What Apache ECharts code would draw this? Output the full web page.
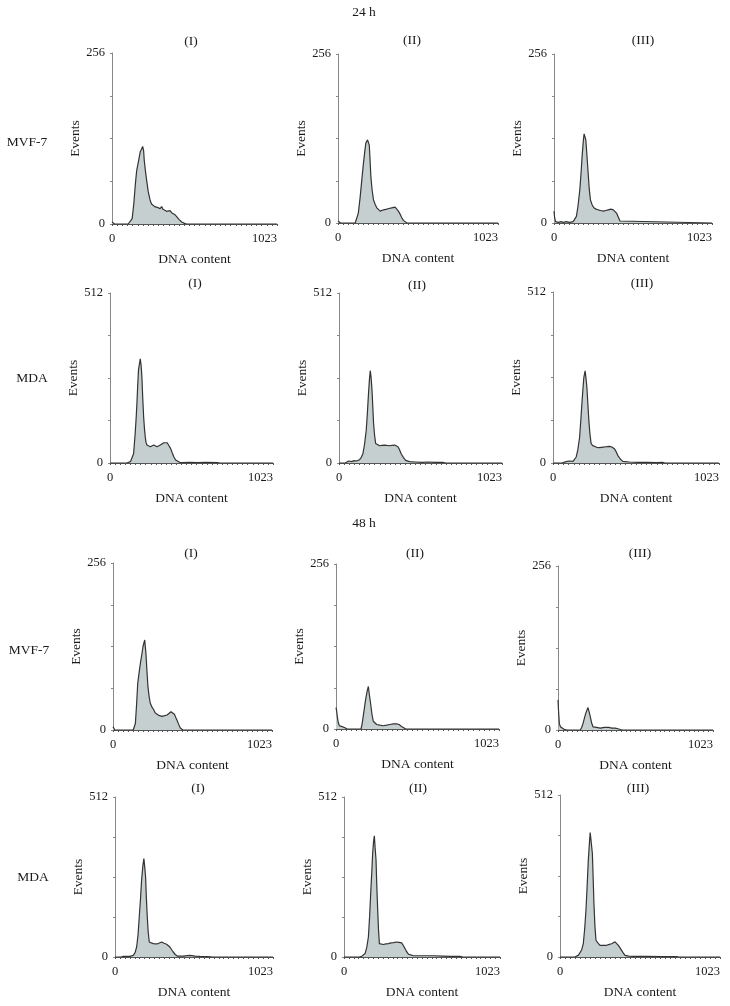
<!DOCTYPE html>
<html><head><meta charset="utf-8">
<script src="https://cdn.jsdelivr.net/npm/echarts@6/dist/echarts.min.js"></script>
<style>html,body{margin:0;padding:0;background:#fff}#c{width:730px;height:1006px}</style>
</head><body><div id="c"></div>
<script>
// ---------- data ----------
const panelTitles = ['(I)', '(II)', '(III)'];
const rowLabels = ['MVF-7', 'MDA', 'MVF-7', 'MDA'];
const timeLabels = ['24 h', '48 h'];
const yMaxByRow = [256, 512, 256, 512];
const xMax = 1023;
const yAxisName = 'Events';
const xAxisName = 'DNA content';

// [DNA content, events]
const mvf24_I = [[0,3],[8,1],[16,0],[100,0],[112,1],[125,8],[135,30],[145,60],[153,80],[165,95],[175,108],[183,112],[190,116],[196,110],[200,95],[208,78],[215,65],[225,48],[236,36],[245,30],[254,28],[265,26],[280,25],[298,23],[308,26],[316,22],[328,21],[339,19],[350,18],[360,20],[370,17],[378,16],[390,14],[401,11],[415,7],[432,3],[450,1],[463,0],[1023,0]];
const mvf24_II = [[0,3],[8,1],[16,0],[110,0],[117,1],[130,15],[142,40],[152,65],[163,91],[172,110],[178,121],[189,126],[200,118],[205,95],[210,71],[218,50],[227,35],[238,28],[248,23],[260,20],[270,18],[280,19],[291,20],[302,20],[312,21],[325,22],[344,23],[355,23],[365,24],[376,21],[386,18],[398,13],[408,8],[418,4],[429,1],[440,0],[1023,0]];
const mvf24_III = [[0,18],[4,8],[10,2],[30,1],[45,2],[60,1],[80,2],[100,1],[124,2],[135,5],[145,10],[155,25],[167,50],[175,75],[182,101],[190,125],[195,135],[206,126],[214,100],[221,76],[228,52],[236,35],[246,28],[258,23],[272,21],[286,20],[302,19],[319,18],[335,19],[351,20],[368,21],[384,20],[395,18],[405,15],[416,9],[427,3],[438,0],[1023,0]];
const mda24_I = [[0,0],[105,0],[116,1],[128,4],[137,8],[148,28],[158,89],[164,135],[169,180],[174,235],[179,281],[190,314],[195,295],[200,261],[205,200],[211,140],[216,105],[221,79],[226,62],[232,54],[242,51],[253,49],[264,52],[274,54],[285,51],[295,49],[306,52],[316,54],[327,58],[338,61],[348,63],[359,61],[370,52],[380,44],[391,30],[401,18],[412,9],[422,3],[437,2],[453,1],[500,2],[550,1],[600,2],[675,1],[690,0],[1023,0]];
const mda24_II = [[0,0],[40,0],[46,5],[60,6],[80,4],[95,7],[109,6],[120,8],[129,10],[140,17],[150,28],[160,55],[171,99],[178,150],[184,200],[190,245],[196,278],[201,260],[207,221],[212,170],[217,119],[223,85],[230,59],[242,55],[255,52],[270,53],[286,54],[300,53],[317,52],[333,53],[349,54],[360,52],[370,49],[380,40],[390,28],[404,17],[418,8],[443,4],[480,3],[520,2],[560,3],[600,2],[651,2],[670,0],[1023,0]];
const mda24_III = [[0,0],[55,0],[61,5],[80,4],[100,6],[123,5],[133,10],[143,18],[153,40],[164,77],[171,125],[178,177],[184,218],[190,256],[198,276],[203,255],[209,226],[215,175],[221,127],[228,85],[235,58],[245,52],[256,48],[270,47],[286,46],[300,47],[317,48],[333,49],[348,50],[363,48],[378,43],[389,34],[399,23],[415,12],[430,5],[471,3],[520,2],[580,2],[640,1],[675,2],[690,0],[1023,0]];
const mvf48_I = [[0,5],[6,2],[12,0],[130,0],[144,10],[152,40],[159,71],[168,88],[176,102],[185,115],[193,128],[204,138],[212,117],[218,92],[225,66],[232,52],[240,41],[251,35],[262,31],[272,26],[283,23],[299,22],[315,21],[332,22],[348,23],[360,25],[373,28],[385,27],[395,24],[404,19],[412,15],[422,9],[433,3],[450,0],[1023,0]];
const mvf48_II = [[0,33],[4,28],[8,20],[14,10],[21,5],[35,4],[45,3],[56,2],[70,0],[157,0],[164,8],[171,20],[178,32],[186,46],[195,58],[203,66],[210,52],[217,40],[225,24],[234,12],[244,9],[255,7],[275,6],[296,5],[318,6],[338,7],[360,8],[380,8],[396,7],[411,4],[425,2],[438,0],[1023,0]];
const mvf48_III = [[0,47],[4,28],[9,10],[16,5],[26,3],[40,1],[60,0],[147,0],[156,4],[165,10],[174,18],[183,26],[191,31],[198,35],[206,28],[213,21],[222,11],[231,5],[255,4],[279,3],[306,4],[334,4],[356,3],[378,3],[395,2],[407,1],[422,0],[1023,0]];
const mda48_I = [[0,0],[40,0],[54,2],[75,2],[97,2],[108,3],[118,5],[130,14],[140,32],[149,70],[157,128],[165,185],[172,245],[180,290],[187,315],[192,290],[198,256],[203,190],[209,128],[215,80],[222,48],[235,45],[248,43],[264,42],[280,43],[291,46],[302,48],[318,44],[334,41],[345,37],[355,32],[366,24],[377,16],[390,8],[403,3],[440,3],[485,5],[520,3],[549,2],[600,1],[635,0],[1023,0]];
const mda48_II = [[0,0],[100,0],[116,2],[127,6],[138,11],[149,30],[160,64],[168,130],[175,203],[182,270],[188,332],[194,370],[199,388],[204,350],[210,311],[215,230],[221,150],[226,90],[232,43],[245,42],[258,40],[275,42],[291,43],[308,45],[324,46],[335,50],[345,48],[360,47],[378,45],[390,36],[400,27],[411,17],[422,9],[455,4],[520,4],[586,4],[650,3],[700,2],[761,2],[780,0],[1023,0]];
const mda48_III = [[0,0],[95,0],[107,2],[118,6],[128,11],[138,22],[149,42],[158,90],[166,148],[174,230],[181,306],[188,360],[193,393],[198,370],[207,327],[212,250],[217,169],[223,100],[230,53],[243,44],[256,37],[277,37],[298,37],[315,40],[330,42],[341,46],[352,48],[363,44],[373,37],[384,29],[394,21],[405,12],[416,5],[440,3],[469,2],[550,2],[650,1],[746,1],[760,0],[1023,0]];

const panelData = [
  [mvf24_I, mvf24_II, mvf24_III],
  [mda24_I, mda24_II, mda24_III],
  [mvf48_I, mvf48_II, mvf48_III],
  [mda48_I, mda48_II, mda48_III]
];

// ---------- layout (pixels): [axis left x, axis right x, top y, zero y] ----------
const layout = [
  [[112,277,53,224],[338,498,54,223],[554,712,54,223]],
  [[110,273,293,463],[339,502,293,463],[553,719,292,463]],
  [[113,272,563,730],[336,499,564,729],[558,713,566,730]],
  [[115,273,797,957],[344,500,797,957],[560,720,795,957]]
];
const titlePos = [
  [[191,41],[412,40],[643,40]],
  [[195,283],[417,285],[642,283]],
  [[191,553],[415,553],[640,553]],
  [[198,788],[418,788],[638,788]]
];
const rowLabelPos = [[27,142],[32,378],[29,650],[33,877]];
const timeLabelPos = [[364,12],[364,523]];

const FONT = '"Liberation Serif", "Times New Roman", serif';
const TXT = '#1a1a1a';

const grids = [], xAxes = [], yAxes = [], series = [], graphics = [];
let idx = 0;
for (let r = 0; r < 4; r++) {
  for (let c = 0; c < 3; c++) {
    const [x0, x1, yt, yz] = layout[r][c];
    grids.push({left: x0, top: yt, width: x1 - x0, height: yz - yt, outerBoundsMode: 'none'});
    xAxes.push({
      type: 'value', gridIndex: idx, min: 0, max: xMax, interval: 32,
      name: xAxisName, nameLocation: 'middle', nameGap: 28,
      nameTextStyle: {fontFamily: FONT, fontSize: 13.5, color: TXT},
      axisLine: {show: true, onZero: false, lineStyle: {color: '#555', width: 1}},
      axisTick: {show: true, length: 2, lineStyle: {color: '#555'}},
      axisLabel: {show: true, margin: 8, fontFamily: FONT, fontSize: 12.5, color: TXT,
        alignMaxLabel: 'right',
        formatter: v => (v === 0 || v === xMax) ? String(v) : ''},
      splitLine: {show: false}
    });
    const ym = yMaxByRow[r];
    yAxes.push({
      type: 'value', gridIndex: idx, min: 0, max: ym, interval: ym / 4,
      name: yAxisName, nameLocation: 'middle', nameGap: 30, nameRotate: 90,
      nameTextStyle: {fontFamily: FONT, fontSize: 13.5, color: TXT},
      axisLine: {show: true, lineStyle: {color: '#888', width: 1}},
      axisTick: {show: true, length: 2, lineStyle: {color: '#888'}},
      axisLabel: {show: true, margin: 7, fontFamily: FONT, fontSize: 12.5, color: TXT,
        formatter: v => (v === 0 || v === ym) ? String(v) : ''},
      splitLine: {show: false}
    });
    series.push({
      type: 'line', xAxisIndex: idx, yAxisIndex: idx, data: panelData[r][c],
      showSymbol: false, symbol: 'none', smooth: false, animation: false,
      lineStyle: {color: '#333', width: 1.2},
      areaStyle: {color: '#c6cfcf', opacity: 1},
      z: 1
    });
    graphics.push({type: 'text', x: titlePos[r][c][0], y: titlePos[r][c][1],
      style: {text: panelTitles[c], font: '13.5px ' + FONT, fill: TXT, textAlign: 'center', textVerticalAlign: 'middle'}});
    idx++;
  }
  graphics.push({type: 'text', x: rowLabelPos[r][0], y: rowLabelPos[r][1],
    style: {text: rowLabels[r], font: '13.5px ' + FONT, fill: TXT, textAlign: 'center', textVerticalAlign: 'middle'}});
}
for (let t = 0; t < 2; t++) {
  graphics.push({type: 'text', x: timeLabelPos[t][0], y: timeLabelPos[t][1],
    style: {text: timeLabels[t], font: '13.5px ' + FONT, fill: TXT, textAlign: 'center', textVerticalAlign: 'middle'}});
}

const chart = echarts.init(document.getElementById('c'), null, {renderer: 'canvas'});
chart.setOption({
  animation: false,
  backgroundColor: '#fff',
  grid: grids, xAxis: xAxes, yAxis: yAxes, series: series,
  graphic: graphics
});
</script></body></html>
